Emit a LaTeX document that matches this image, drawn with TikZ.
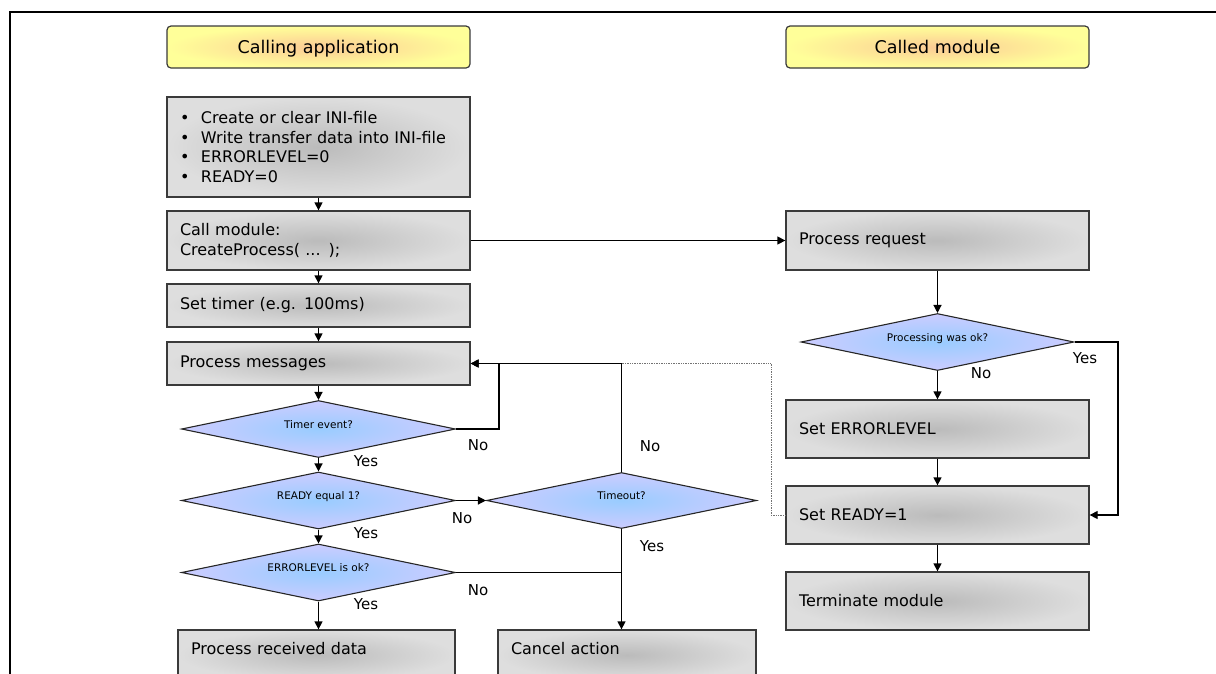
\documentclass[tikz,border=0pt]{standalone}
\usepackage{fontspec}
\setmainfont{DejaVu Sans}
\usetikzlibrary{shapes.geometric,arrows.meta}

\definecolor{boxout}{HTML}{DEDEDE}
\definecolor{boxin}{HTML}{BBBBBB}
\definecolor{hdrout}{HTML}{FFFF99}
\definecolor{hdrin}{HTML}{FCCB95}
\definecolor{decout}{HTML}{CCCCFF}
\definecolor{decin}{HTML}{99CCFF}
\definecolor{rim}{HTML}{3A3A3A}

\tikzset{
  procbox/.style={rectangle, draw=rim, line width=1.3pt, inner color=boxin,
    outer color=boxout, minimum width=303pt, inner sep=0pt, text width=277pt,
    align=left, font=\fontsize{16}{19.5}\selectfont},
  header/.style={rectangle, rounded corners=4pt, draw=rim, line width=1.2pt,
    inner color=hdrin, outer color=hdrout, minimum width=303pt,
    minimum height=42pt, font=\fontsize{17.5}{20}\selectfont,
    text height=12.8pt, text depth=0.4pt},
  decision/.style={diamond, aspect=4.8, draw=black!85, line width=1.1pt,
    inner color=decin, outer color=decout, minimum width=274pt,
    minimum height=57pt, inner sep=0pt, font=\fontsize{10.5}{12}\selectfont,
    text height=6pt, text depth=7.4pt},
  flow/.style={line width=1.3pt, -{Triangle[length=8pt,width=8pt]}},
  joinline/.style={line width=1.3pt},
  dotline/.style={densely dotted, line width=0.7pt, black!55},
  answer/.style={font=\fontsize{15}{17}\selectfont, inner sep=0pt},
}

\begin{document}
\begin{tikzpicture}[x=1pt, y=-1pt]
\useasboundingbox (0,0) rectangle (1216,673);
\clip (0,0) rectangle (1216,673);

% page frame (top and left edges)
\draw[line width=2.6pt] (10,700) -- (10,12) -- (1240,12);

% column headers
\node[header] (hdrA) at (318.5,47) {Calling application};
\node[header] (hdrB) at (937.5,47) {Called module};

% calling application
\node[procbox, minimum height=100pt] (init) at (318.5,147)
  {\makebox[21pt][l]{\textbullet}Create or clear INI-file\\
   \makebox[21pt][l]{\textbullet}Write transfer data into INI-file\\
   \makebox[21pt][l]{\textbullet}ERRORLEVEL=0\\
   \makebox[21pt][l]{\textbullet}READY=0};
\node[procbox, minimum height=59pt] (call) at (318.5,240.5)
  {Call module:\\CreateProcess( ... );};
\node[procbox, minimum height=43pt] (timer) at (318.5,305.5) {Set timer (e.g. 100ms)};
\node[procbox, minimum height=43pt] (msgs) at (318.5,363.5) {Process messages};

\node[decision] (qtimer) at (318.5,429) {Timer event?};
\node[decision] (qready) at (318.5,500.5) {READY equal 1?};
\node[decision] (qerr) at (318.5,572.5) {ERRORLEVEL is ok?};
\node[decision, minimum width=270pt, minimum height=56pt] (qtimeout) at (621.5,500.5) {Timeout?};

\node[procbox, minimum width=277pt, text width=251pt, minimum height=50pt,
      text height=12pt, text depth=12.4pt] (recv) at (316.5,655) {Process received data};
\node[procbox, minimum width=258pt, text width=232pt, minimum height=50pt,
      text height=12pt, text depth=12.4pt] (cancel) at (627,655) {Cancel action};

% called module
\node[procbox, minimum height=59pt] (req) at (937.5,240.5) {Process request};
\node[decision, minimum width=273pt] (qok) at (937.5,342) {Processing was ok?};
\node[procbox, minimum height=58pt] (seterr) at (937.5,429) {Set ERRORLEVEL};
\node[procbox, minimum height=58pt] (setready) at (937.5,515) {Set READY=1};
\node[procbox, minimum height=58pt] (term) at (937.5,601) {Terminate module};

% bends
\coordinate (loopA) at (499,429);
\coordinate (yesR) at (1118,342);
\coordinate (dotC) at (771,515);

% connectors, left column
\draw[flow] (init) -- (call);
\draw[flow] (call) -- (timer);
\draw[flow] (timer) -- (msgs);
\draw[flow] (msgs) -- (qtimer);
\draw[flow] (qtimer) -- (qready);
\draw[flow] (qready) -- (qerr);
\draw[flow] (qerr.south) -- (qerr.south |- recv.north);
\draw[flow] (qtimer.east) -- (loopA) |- (msgs.east);
\draw[flow] (qready.east) -- (qtimeout.west);
\draw[flow] (qtimeout.north) |- (msgs.east);
\draw[joinline] (qerr.east) -- (qerr.east -| qtimeout.south);
\draw[flow] (qtimeout.south) -- (qtimeout.south |- cancel.north);

% connectors, right column
\draw[flow] (call.east) -- (req.west);
\draw[flow] (req) -- (qok);
\draw[flow] (qok) -- (seterr);
\draw[flow] (seterr) -- (setready);
\draw[flow] (setready) -- (term);
\draw[flow] (qok.east) -- (yesR) |- (setready.east);
\draw[dotline] (setready.west) -- (dotC) |- (qtimeout.north |- msgs.east);

% branch answers
\node[answer] (aNo1) at (478,445) {No};
\node[answer] (aYes1) at (366,461) {Yes};
\node[answer] (aNo2) at (462,518) {No};
\node[answer] (aYes2) at (366,533) {Yes};
\node[answer] (aNo3) at (478,590) {No};
\node[answer] (aYes3) at (366,604) {Yes};
\node[answer] (aNo4) at (650,446) {No};
\node[answer] (aYes4) at (652,546) {Yes};
\node[answer] (aYes5) at (1085,358) {Yes};
\node[answer] (aNo5) at (981,373) {No};
\end{tikzpicture}
\end{document}
